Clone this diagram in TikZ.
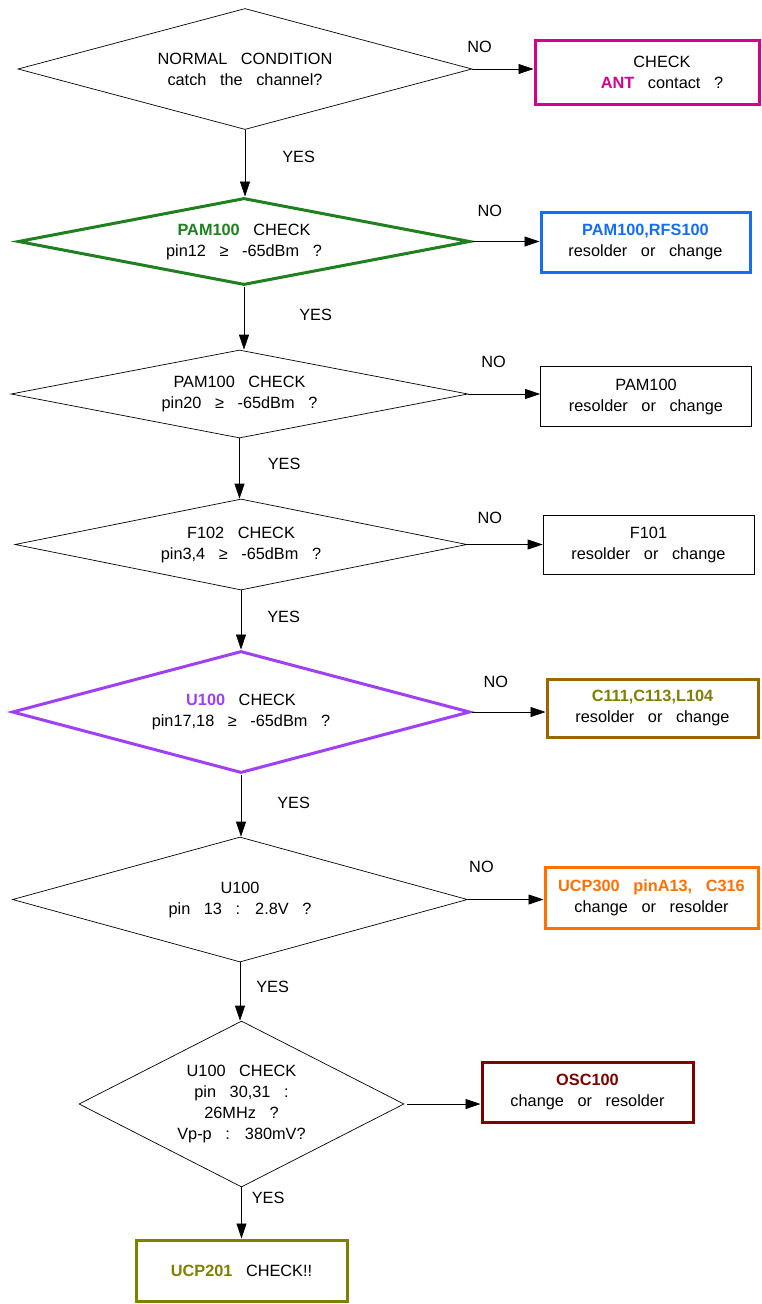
\documentclass[tikz,border=0pt]{standalone}
\usepackage{fontspec}
\setmainfont{Liberation Sans}[WordSpace=3]
\usetikzlibrary{shapes,arrows.meta}

\definecolor{antpink}{RGB}{214,0,143}
\definecolor{pamgreen}{RGB}{30,128,30}
\definecolor{rfsblue}{RGB}{20,110,245}
\definecolor{upurple}{RGB}{160,64,245}
\definecolor{cbrown}{RGB}{153,102,0}
\definecolor{colive}{RGB}{128,128,0}
\definecolor{ucporange}{RGB}{255,112,0}
\definecolor{oscred}{RGB}{128,0,0}

\begin{document}
\begin{tikzpicture}[x=1pt,y=-1pt]
\tikzset{
decision/.style={diamond, draw=black, line width=0.7pt, inner sep=0pt, align=center, font=\fontsize{16.3}{21}\selectfont},
check/.style={rectangle, draw=black, line width=0.7pt, inner sep=0pt, align=center, minimum width=211pt, minimum height=60pt, font=\fontsize{16.3}{21}\selectfont},
myarrow/.style={-{Triangle[length=15pt,width=10pt]}, line width=0.7pt},
mylabel/.style={font=\fontsize{16.3}{18}\selectfont, inner sep=0pt},
}
\useasboundingbox (0,0) rectangle (762,1304);

% decisions
\node [decision, shape aspect=3.75, minimum width=454pt, minimum height=121pt] (normal) at (245,69) {NORMAL CONDITION\\catch the channel?};
\node [decision, shape aspect=5.2, draw=pamgreen, line width=3pt, minimum width=452pt, minimum height=87pt] (pam12) at (244,241.5) {\textcolor{pamgreen}{\textbf{PAM100}} CHECK\\pin12 ≥ -65dBm ?};
\node [decision, shape aspect=5.2, minimum width=457pt, minimum height=88pt] (pam20) at (239.5,394) {PAM100 CHECK\\pin20 ≥ -65dBm ?};
\node [decision, shape aspect=5, minimum width=452pt, minimum height=91pt] (f102) at (241,544.5) {F102 CHECK\\pin3,4 ≥ -65dBm ?};
\node [decision, shape aspect=3.75, draw=upurple, line width=3pt, minimum width=458pt, minimum height=122pt] (u17) at (241,712) {\textcolor{upurple}{\textbf{U100}} CHECK\\pin17,18 ≥ -65dBm ?};
\node [decision, shape aspect=3.6, minimum width=455pt, minimum height=125pt] (u13) at (240,899.5) {U100\\pin 13 : 2.8V ?};
\node [decision, shape aspect=1.95, minimum width=325pt, minimum height=166pt] (u30) at (241.5,1104) {U100 CHECK\\pin 30,31 :\\26MHz ?\\Vp-p : 380mV?};

% checks
\node [check, draw=antpink, line width=3pt, minimum width=224pt, minimum height=64pt] (ant) at (647,72) {\hspace*{30pt}CHECK\\\hspace*{30pt}\textcolor{antpink}{\textbf{ANT}} contact ?};
\node [check, draw=rfsblue, line width=3pt, minimum width=209pt] (rfs) at (645.5,242) {\textcolor{rfsblue}{\textbf{PAM100,RFS100}}\\resolder or change};
\node [check] (pam) at (646,396.5) {PAM100\\resolder or change};
\node [check, minimum height=59pt] (f101) at (648.5,544.5) {F101\\resolder or change};
\node [check, draw=cbrown, line width=3pt, minimum height=58pt] (c111) at (652.5,708) {\textcolor{colive}{\textbf{C111,C113,L104}}\\resolder or change};
\node [check, draw=ucporange, line width=3pt, minimum width=213pt, minimum height=61pt] (ucp300) at (651.5,897.5) {\textcolor{ucporange}{\textbf{UCP300 pinA13, C316}}\\change or resolder};
\node [check, draw=oscred, line width=3pt] (osc) at (587.5,1092) {\textcolor{oscred}{\textbf{OSC100}}\\change or resolder};
\node [check, draw=colive, line width=3pt, minimum height=61pt] (ucp201) at (241.5,1270.5) {\textcolor{colive}{\textbf{UCP201}} CHECK!!};

% NO branches
\draw[myarrow] (normal.east) -- node[mylabel, above=16pt, pos=0.12] {NO} (normal.east -| ant.west);
\draw[myarrow] (pam12.east) -- node[mylabel, above=24pt, pos=0.27] {NO} (pam12.east -| rfs.west);
\draw[myarrow] (pam20.east) -- node[mylabel, above=26pt, pos=0.35] {NO} (pam20.east -| pam.west);
\draw[myarrow] (f102.east) -- node[mylabel, above=20pt, pos=0.3] {NO} (f102.east -| f101.west);
\draw[myarrow] (u17.east) -- node[mylabel, above=24pt, pos=0.33] {NO} (u17.east -| c111.west);
\draw[myarrow] (u13.east) -- node[mylabel, above=27pt, pos=0.18] {NO} (u13.east -| ucp300.west);
\draw[myarrow, shorten <=3pt] (u30.east) -- (u30.east -| osc.west);

% YES branches
\draw[myarrow] (normal.south) -- node[mylabel, right=37pt, pos=0.4] {YES} (normal.south |- pam12.north);
\draw[myarrow] (pam12.south) -- node[mylabel, right=55pt, pos=0.45] {YES} (pam12.south |- pam20.north);
\draw[myarrow] (pam20.south) -- node[mylabel, right=28pt, pos=0.42] {YES} (pam20.south |- f102.north);
\draw[myarrow] (f102.south) -- node[mylabel, right=26pt, pos=0.45] {YES} (f102.south |- u17.north);
\draw[myarrow] (u17.south) -- node[mylabel, right=36pt, pos=0.45] {YES} (u17.south |- u13.north);
\draw[myarrow] (u13.south) -- node[mylabel, right=16pt, pos=0.42] {YES} (u13.south |- u30.north);
\draw[myarrow] (u30.south) -- node[mylabel, right=10pt, pos=0.2] {YES} (u30.south |- ucp201.north);
\end{tikzpicture}
\end{document}
